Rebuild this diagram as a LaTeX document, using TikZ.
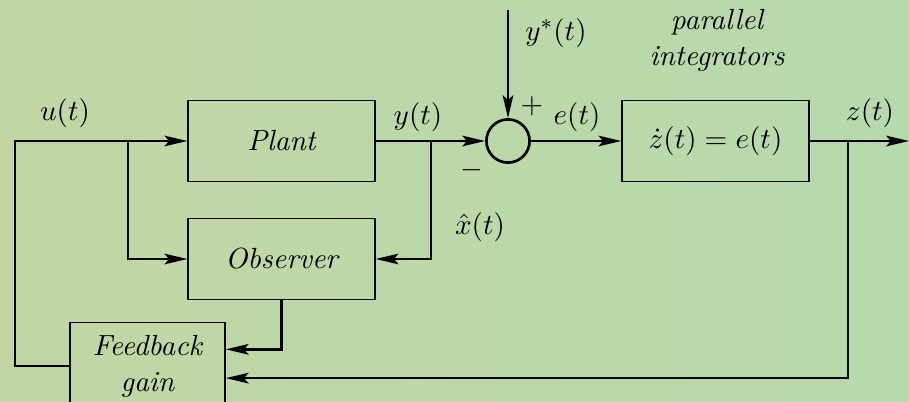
\documentclass[tikz,border=0pt,11pt]{standalone}
\usepackage{amsmath}
\usepackage{tikz}
\usetikzlibrary{arrows.meta,positioning,calc}
\definecolor{bgLeft}{RGB}{194,214,164}
\definecolor{bgMid}{RGB}{170,222,200}
\definecolor{bgRight}{RGB}{182,218,174}
\tikzset{
    blockBox/.style={
        rectangle,
        draw,
        line width=0.5pt,
        minimum width=2.47cm,
        minimum height=1.07cm,
        font=\itshape,
        align=center
    },
    sumNode/.style={circle, draw, line width=1pt, minimum size=0.57cm, inner sep=0pt},
    % Arrows
    sigLine/.style={line width=0.9pt},
    sigArrow/.style={sigLine, -{Stealth[length=3mm, width=1.4mm, inset=0.6mm]}},
    sigLabel/.style={inner sep=1pt}
}
\begin{document}
\begin{tikzpicture}[x=0.0132cm, y=-0.0132cm]

% --- Background ---
\useasboundingbox[left color=bgLeft, middle color=bgMid, right color=bgRight] (0,0) rectangle (909,402);

% --- Blocks ---
\node[blockBox] (plant) at (281.5,141) {Plant};
\node[blockBox] (observer) at (281.5,259) {Observer};
\node[blockBox] (integ) at (715.5,141) {$\dot{z}(t)=e(t)$};
\node[blockBox, minimum width=2.05cm, minimum height=1.15cm] (gain) at (147.5,366) {Feedback\\gain};
\node[sumNode] (sum) at (508,141) {};

% --- Branch points ---
\coordinate (ucorner) at (15,141);
\coordinate (ubranch) at (128,141);
\coordinate (ybranch) at (431,141);
\coordinate (ystar) at (508,10);
\coordinate (zbranch) at (848,141);
\coordinate (zend) at (909,141);

% --- Connectors ---
\draw[sigArrow] (gain.west) -| (ucorner) -- (plant.west);
\draw[sigArrow] (ubranch) |- (observer.west);
\draw[sigArrow] (plant.east) -- (sum.west);
\draw[sigArrow] (ybranch) |- (observer.east);
\draw[sigArrow] (ystar) -- (sum.north);
\draw[sigArrow] (sum.east) -- (integ.west);
\draw[sigArrow] (integ.east) -- (zend);
\draw[sigArrow] (zbranch) |- ([yshift=-0.16cm]gain.east);
\draw[sigArrow] (observer.south) |- ([yshift=0.22cm]gain.east);

% --- Signal labels ---
\node[sigLabel] (ulab) at (65,113) {$u(t)$};
\node[sigLabel] (ylab) at (418,117) {$y(t)$};
\node[sigLabel] (xhatlab) at (480,227) {$\hat{x}(t)$};
\node[sigLabel] (ystarlab) at (556,33) {$y^{*}(t)$};
\node[sigLabel] (elab) at (577,117) {$e(t)$};
\node[sigLabel] (zlab) at (870,113) {$z(t)$};
\node[sigLabel] (plus) at (532,106) {$+$};
\node[sigLabel] (minus) at (472,170) {$-$};
\node[sigLabel, align=center, font=\itshape] (integlab) at (717,40) {parallel\\integrators};

\end{tikzpicture}
\end{document}
